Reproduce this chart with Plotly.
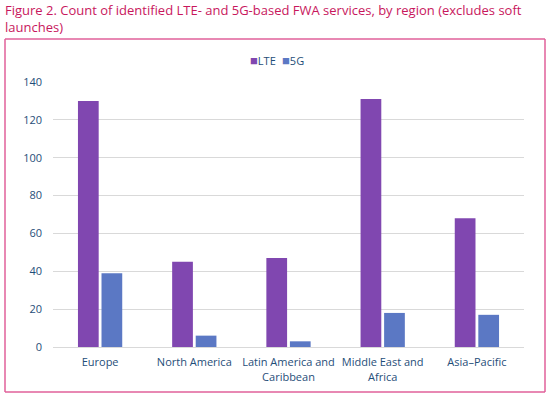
import plotly.graph_objects as go

categories = ["Europe", "North America", "Latin America and<br>Caribbean", "Middle East and<br>Africa", "Asia–Pacific"]
lte_values = [130, 45, 47, 131, 68]
g5_values = [39, 6, 3, 18, 17]
y_ticks = [0, 20, 40, 60, 80, 100, 120, 140]
series_names = ["LTE", "5G"]
series_colors = ["#8047B0", "#5B78C4"]
title_lines = ["Figure 2. Count of identified LTE- and 5G-based FWA services, by region (excludes soft",
               "launches)"]

L, R, T, B = 53, 524, 82, 347
W, H = 550, 398

def px(x):
    return (x - L) / (R - L)

def py(y):
    return (B - y) / (B - T)

fig = go.Figure()
for name, vals, col in zip(series_names, [lte_values, g5_values], series_colors):
    fig.add_trace(go.Bar(name=name, x=categories, y=vals, showlegend=False,
                         marker=dict(color=col, line=dict(width=0))))

pink = "#E0609A"
legend_anns = [
    dict(xref="paper", yref="paper", x=px(248), y=py(60), xanchor="left", yanchor="middle",
         showarrow=False,
         text=f'<span style="color:{series_colors[0]};font-size:13px">■</span>{series_names[0]}',
         font=dict(family="Open Sans", size=11, color="#1F4E79")),
    dict(xref="paper", yref="paper", x=px(280), y=py(60), xanchor="left", yanchor="middle",
         showarrow=False,
         text=f'<span style="color:{series_colors[1]};font-size:13px">■</span>{series_names[1]}',
         font=dict(family="Open Sans", size=11, color="#1F4E79")),
]
title_anns = [
    dict(xref="paper", yref="paper", x=px(4), y=py(yc), xanchor="left", yanchor="middle",
         align="left", showarrow=False, text=line, borderpad=0,
         font=dict(family="Open Sans", size=13, color="#C8175D"))
    for line, yc in zip(title_lines, [10, 27.5])
]

fig.update_layout(
    width=W, height=H,
    margin=dict(l=L, r=W - R, t=T, b=H - B, autoexpand=False),
    paper_bgcolor="white", plot_bgcolor="white",
    barmode="group", bargap=0.5, bargroupgap=0.12,
    font=dict(family="Open Sans", size=11, color="#1F4E79"),
    showlegend=False,
    xaxis=dict(showgrid=False, showline=True, linecolor="#D9D9D9", linewidth=1, ticks="",
               ticklabelstandoff=5, tickfont=dict(size=11, color="#1F4E79")),
    yaxis=dict(range=[0, 140], tickvals=y_ticks, showgrid=True, gridcolor="#D9D9D9", gridwidth=1,
               zeroline=False, showline=False, ticks="", ticklabelstandoff=10,
               tickfont=dict(size=11, color="#1F4E79")),
    shapes=[
        dict(type="line", xref="paper", yref="paper", x0=px(5), x1=px(545), y0=py(39), y1=py(39),
             line=dict(color=pink, width=1.5)),
        dict(type="line", xref="paper", yref="paper", x0=px(5), x1=px(5), y0=py(39), y1=py(392),
             line=dict(color=pink, width=1.5)),
        dict(type="line", xref="paper", yref="paper", x0=px(545), x1=px(545), y0=py(39), y1=py(392),
             line=dict(color=pink, width=1.5)),
        dict(type="line", xref="paper", yref="paper", x0=px(5), x1=px(545), y0=py(392), y1=py(392),
             line=dict(color=pink, width=1.5)),
    ],
    annotations=title_anns + legend_anns,
)

fig.write_html("out.html", config={"displayModeBar": False},
               post_script="document.body.style.margin='0';document.body.style.overflow='hidden';")
